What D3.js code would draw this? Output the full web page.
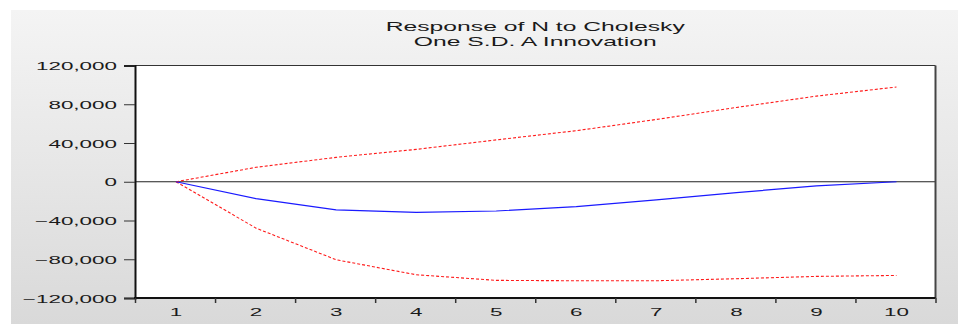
<!DOCTYPE html>
<html>
<head>
<meta charset="utf-8">
<script src="https://cdn.jsdelivr.net/npm/d3@7"></script>
<style>
  html, body { margin: 0; padding: 0; background: #ffffff; }
  svg { display: block; }
  text { font-family: "Liberation Sans", Arial, sans-serif; fill: #1a1a1a; }
</style>
</head>
<body>
<svg id="chart" width="958" height="324"></svg>
<script>
// Impulse response of N to a one-S.D. Cholesky shock in A, with +/- 2 S.E. bands
const periods = [1, 2, 3, 4, 5, 6, 7, 8, 9, 10];
const response = [0, -17500, -29000, -31600, -30200, -25600, -18700, -11200, -4300, 0];
const upperBand = [0, 14900, 25200, 33400, 43200, 52700, 64300, 76700, 88400, 97800];
const lowerBand = [0, -47900, -80500, -96000, -101800, -102200, -102200, -100100, -97700, -96700];
const yTicks = [-120000, -80000, -40000, 0, 40000, 80000, 120000];
const titleLines = ["Response of N to Cholesky", "One S.D. A Innovation"];

const W = 958, H = 324;
const plot = { left: 135, right: 935.5, top: 65.5, bottom: 298 };
const SX = 1.9; // horizontal stretch of the lettering

const svg = d3.select("#chart");

// panel background with a soft vertical gradient
const defs = svg.append("defs");
const grad = defs.append("linearGradient").attr("id", "bg").attr("x1", 0).attr("y1", 0).attr("x2", 0).attr("y2", 1);
grad.append("stop").attr("offset", "0%").attr("stop-color", "#f4f4f4");
grad.append("stop").attr("offset", "100%").attr("stop-color", "#d9d9d9");
svg.append("rect").attr("x", 11).attr("y", 10).attr("width", W - 11).attr("height", H - 10).attr("fill", "url(#bg)");

const x = d3.scaleBand().domain(periods).range([plot.left, plot.right]).padding(0);
const y = d3.scaleLinear().domain([-120000, 120000]).range([plot.bottom, plot.top]);
const cx = d => x(d) + x.bandwidth() / 2 + 1;

// white plotting area
svg.append("rect")
  .attr("x", plot.left).attr("y", plot.top)
  .attr("width", plot.right - plot.left).attr("height", plot.bottom - plot.top)
  .attr("fill", "#ffffff");

// zero reference line
svg.append("line")
  .attr("x1", plot.left).attr("x2", plot.right)
  .attr("y1", y(0)).attr("y2", y(0))
  .attr("stroke", "#222").attr("stroke-width", 1);

const lineGen = d3.line().x((d, i) => cx(periods[i])).y(d => y(d));

svg.append("path").datum(upperBand).attr("d", lineGen)
  .attr("fill", "none").attr("stroke", "#ff1a1a").attr("stroke-width", 1.1)
  .attr("stroke-dasharray", "3,2");
svg.append("path").datum(lowerBand).attr("d", lineGen)
  .attr("fill", "none").attr("stroke", "#ff1a1a").attr("stroke-width", 1.1)
  .attr("stroke-dasharray", "3,2");
svg.append("path").datum(response).attr("d", lineGen)
  .attr("fill", "none").attr("stroke", "#1a1aff").attr("stroke-width", 1.2);

// frame
svg.append("line").attr("x1", plot.left).attr("x2", plot.right).attr("y1", plot.top).attr("y2", plot.top)
  .attr("stroke", "#333").attr("stroke-width", 1);
svg.append("line").attr("x1", plot.right).attr("x2", plot.right).attr("y1", plot.top).attr("y2", plot.bottom)
  .attr("stroke", "#444").attr("stroke-width", 2);

// y axis
const yAxis = svg.append("g").attr("transform", `translate(${plot.left},0)`)
  .call(d3.axisLeft(y).tickValues(yTicks).tickSize(11).tickPadding(0).tickFormat(d3.format(",")));
yAxis.select(".domain").attr("stroke", "#111").attr("stroke-width", 2);
yAxis.selectAll(".tick line").attr("stroke", "#333").attr("stroke-width", 1);
yAxis.selectAll(".tick text")
  .attr("x", null).attr("dy", null)
  .attr("font-size", "11.8px")
  .attr("text-anchor", "end")
  .attr("transform", `translate(-18,4) scale(${SX},1)`)
  .style("font-family", "'Liberation Sans', Arial, sans-serif").style("fill", "#1a1a1a");

// x axis: ticks at band edges, labels at band centres
const edges = periods.map(p => x(p)).concat([plot.right]);
const xAxis = svg.append("g");
xAxis.append("line").attr("x1", plot.left - 1).attr("x2", plot.right)
  .attr("y1", plot.bottom).attr("y2", plot.bottom).attr("stroke", "#111").attr("stroke-width", 2);
xAxis.selectAll("line.xt").data(edges).join("line").attr("class", "xt")
  .attr("x1", d => d + 0.5).attr("x2", d => d + 0.5)
  .attr("y1", plot.bottom).attr("y2", plot.bottom + 5)
  .attr("stroke", "#333").attr("stroke-width", 1.5);
xAxis.selectAll("text").data(periods).join("text")
  .attr("transform", d => `translate(${cx(d)},316) scale(${SX},1)`)
  .attr("text-anchor", "middle").attr("font-size", "11.8px")
  .text(d => d);

// title
svg.selectAll("text.title").data(titleLines).join("text").attr("class", "title")
  .attr("transform", (d, i) => `translate(${(plot.left + plot.right) / 2},${31 + i * 15}) scale(${SX},1)`)
  .attr("text-anchor", "middle").attr("font-size", "13px")
  .text(d => d);
</script>
</body>
</html>
